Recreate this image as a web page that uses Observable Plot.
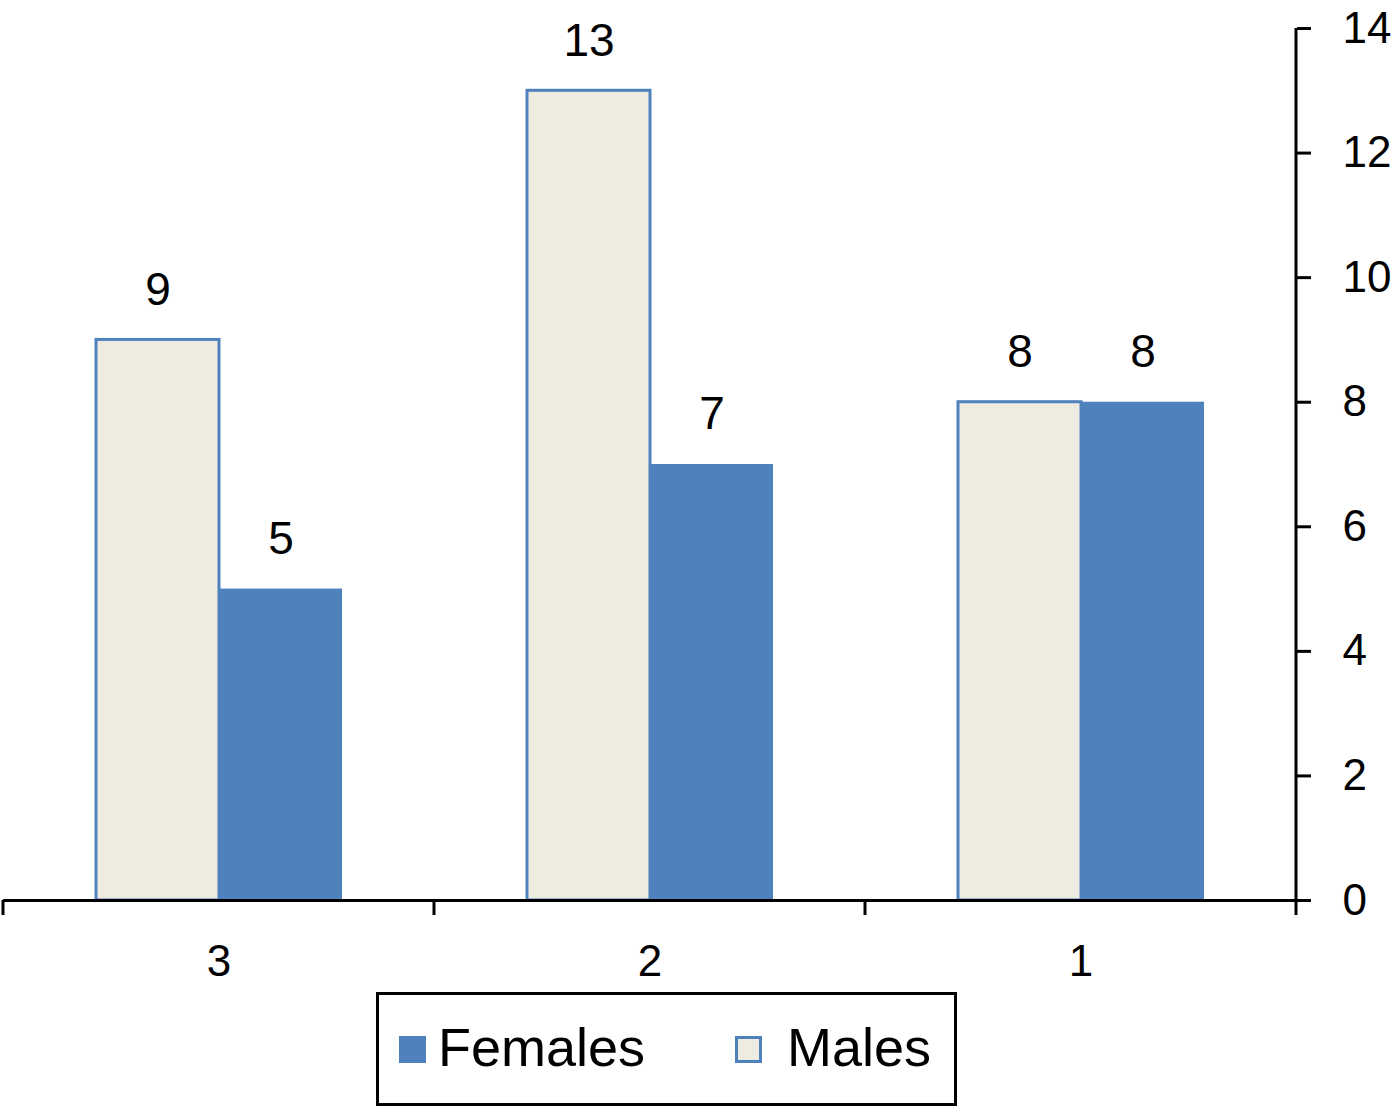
<!DOCTYPE html>
<html>
<head>
<meta charset="utf-8">
<script src="https://cdn.jsdelivr.net/npm/d3@7"></script>
<script src="https://cdn.jsdelivr.net/npm/@observablehq/plot@0.6"></script>
<style>
  html, body { margin: 0; padding: 0; background: #fff; }
  body { width: 1394px; height: 1108px; position: relative; font-family: "Liberation Sans", Arial, sans-serif; }
  #legend { position: absolute; left: 376px; top: 992px; width: 581px; height: 114px; border: 3px solid #000; box-sizing: border-box; }
  .sw { position: absolute; top: 41px; width: 27px; height: 27px; box-sizing: border-box; }
  .lt { position: absolute; top: 22px; font-size: 54px; line-height: 60px; color: #000; }
</style>
</head>
<body>
<div id="chart"></div>
<div id="legend"></div>
<script>
const categories = ["3", "2", "1"];
const series = ["Males", "Females"];
const males = [9, 13, 8];
const females = [5, 7, 8];
const yTicks = [0, 2, 4, 6, 8, 10, 12, 14];
const legendOrder = ["Females", "Males"];

const BLUE = "#4F81BD";
const BEIGE = "#EEECE1";

const rows = [];
categories.forEach((c, i) => {
  rows.push({category: c, sex: "Males", value: males[i]});
  rows.push({category: c, sex: "Females", value: females[i]});
});

const plot = Plot.plot({
  width: 1394,
  height: 992,
  marginLeft: 3,
  marginRight: 98,
  marginTop: 28,
  marginBottom: 92,
  style: {fontFamily: "'Liberation Sans', Arial, sans-serif", color: "#000", background: "#fff"},
  fx: {domain: categories, padding: 0, label: null},
  x: {domain: series, paddingInner: 0, paddingOuter: 0.752, axis: null},
  y: {domain: [0, 14], label: null},
  marks: [
    Plot.barY(rows.filter(d => d.sex === "Males"), {fx: "category", x: "sex", y: "value", fill: BEIGE, stroke: BLUE, strokeWidth: 3}),
    Plot.barY(rows.filter(d => d.sex === "Females"), {fx: "category", x: "sex", y: "value", fill: BLUE}),
    Plot.text(rows, {fx: "category", x: "sex", y: "value", text: d => String(d.value), dy: -50, fontSize: 46, fill: "#000"}),
    Plot.ruleY([0], {stroke: "#000", strokeWidth: 3}),
    Plot.axisY({anchor: "right", ticks: yTicks, tickSize: 14, tickPadding: 32, fontSize: 44, strokeWidth: 3, label: null, tickFormat: d => String(d)}),
    Plot.axisFx({anchor: "bottom", tickSize: 0, tickPadding: 44, fontSize: 44, label: null})
  ]
});

document.getElementById("chart").appendChild(plot);

// axis line on the right and category-boundary ticks, placed with the library's scales
const fx = plot.scale("fx");
const y = plot.scale("y");
const svg = d3.select(plot);
const g = svg.append("g").attr("stroke", "#000").attr("stroke-width", 3).attr("fill", "none");
const y0 = y.apply(0), y14 = y.apply(14);
const bw = fx.bandwidth;
const bounds = categories.map(c => fx.apply(c));
bounds.push(fx.apply(categories[categories.length - 1]) + bw);
bounds.forEach(x => {
  g.append("line").attr("x1", x).attr("x2", x).attr("y1", y0).attr("y2", y0 + 15);
});
const xr = bounds[bounds.length - 1];
g.append("line").attr("x1", xr).attr("x2", xr).attr("y1", y14).attr("y2", y0);

// legend
const legend = document.getElementById("legend");
const pos = {Females: {sw: 20, tx: 59}, Males: {sw: 356, tx: 408}};
legendOrder.forEach(name => {
  const sw = document.createElement("div");
  sw.className = "sw";
  sw.style.left = pos[name].sw + "px";
  if (name === "Females") { sw.style.background = BLUE; }
  else { sw.style.background = BEIGE; sw.style.border = "3px solid " + BLUE; }
  legend.appendChild(sw);
  const t = document.createElement("div");
  t.className = "lt";
  t.style.left = pos[name].tx + "px";
  t.textContent = name;
  legend.appendChild(t);
});
</script>
</body>
</html>
